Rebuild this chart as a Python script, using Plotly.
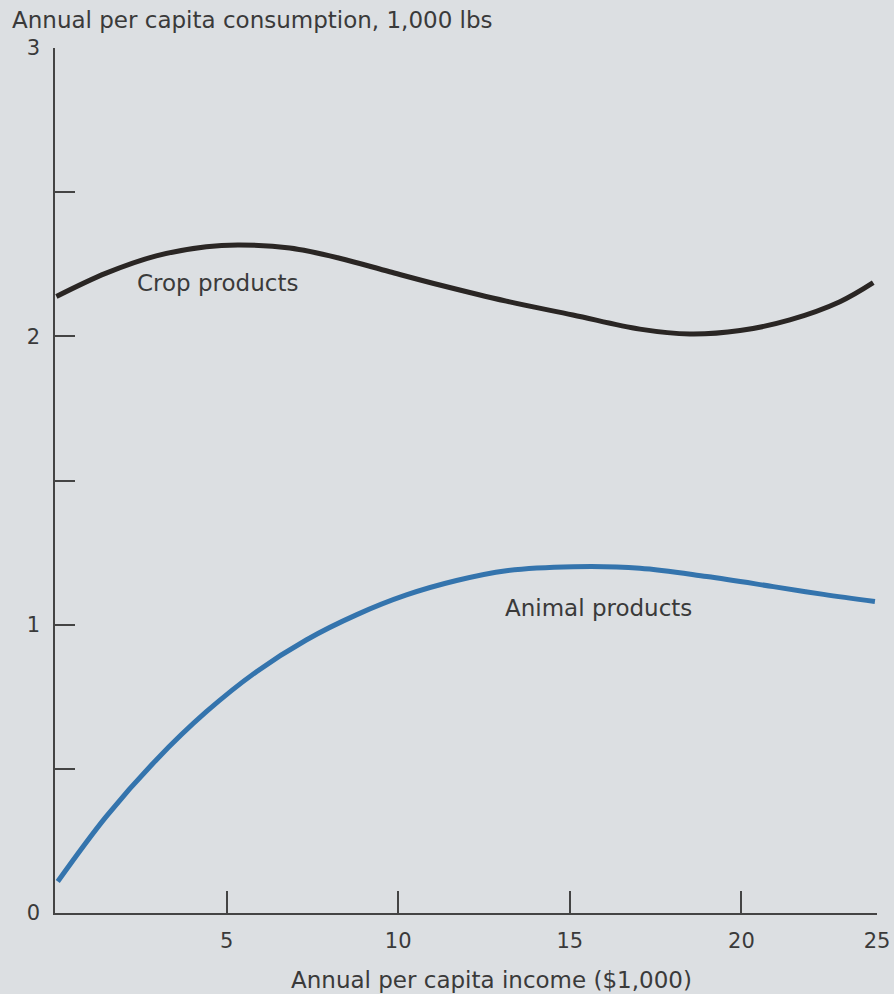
import plotly.graph_objects as go

# Data (x in axis units; the "25" tick sits at 23.95 in the drawing)
crop_x = [0.04, 1.49, 2.95, 4.41, 5.38, 6.84, 8.29, 9.75, 11.21, 13.15, 15.09, 17.04, 18.50, 19.96, 21.41, 22.87, 23.84]
crop_y = [2.138, 2.219, 2.279, 2.311, 2.317, 2.306, 2.271, 2.224, 2.178, 2.122, 2.074, 2.025, 2.008, 2.020, 2.057, 2.120, 2.186]

animal_x = [0.08, 1.49, 2.95, 4.41, 5.87, 7.32, 8.78, 10.24, 11.70, 13.15, 15.10, 17.04, 18.99, 20.93, 22.39, 23.89]
animal_y = [0.109, 0.334, 0.531, 0.698, 0.837, 0.947, 1.034, 1.103, 1.153, 1.187, 1.201, 1.196, 1.167, 1.132, 1.105, 1.080]

x_tick_vals = [5, 10, 15, 20, 23.95]
x_tick_text = ["5", "10", "15", "20", "25"]
y_tick_vals = [0, 1, 2, 3]
y_tick_text = ["0", "1", "2", "3"]

BG = "#dcdfe2"
INK = "#3a3a3a"
FONT = "DejaVu Sans"

W, H = 894, 994
ML, MR, MT, MB = 55, 17, 48, 81
PW, PH = W - ML - MR, H - MT - MB

fig = go.Figure()
fig.add_trace(go.Scatter(x=crop_x, y=crop_y, mode="lines", line=dict(color="#2a2624", width=5, shape="spline", smoothing=1.0),
                         cliponaxis=False, showlegend=False, hoverinfo="skip"))
fig.add_trace(go.Scatter(x=animal_x, y=animal_y, mode="lines", line=dict(color="#3474ad", width=5, shape="spline", smoothing=1.0),
                         cliponaxis=False, showlegend=False, hoverinfo="skip"))

fig.update_layout(
    width=W, height=H,
    paper_bgcolor=BG, plot_bgcolor=BG,
    margin=dict(l=ML, r=MR, t=MT, b=MB, autoexpand=False),
    font=dict(family=FONT, size=22, color=INK),
    xaxis=dict(range=[0, 23.95], showgrid=False, zeroline=False, showline=True, linecolor="#444", linewidth=1.5,
               automargin=False,
               tickvals=x_tick_vals, ticktext=x_tick_text, ticks="inside", ticklen=22, tickwidth=1.5, tickcolor="#444",
               ticklabelstandoff=8, tickfont=dict(size=21, color=INK)),
    yaxis=dict(range=[0, 3], showgrid=False, zeroline=False, showline=True, linecolor="#444", linewidth=1.5,
               automargin=False,
               tickvals=y_tick_vals, ticktext=y_tick_text, ticks="inside", ticklen=20, tickwidth=1.5, tickcolor="#444",
               ticklabelstandoff=9, tickfont=dict(size=21, color=INK),
               minor=dict(tickvals=[0.5, 1.5, 2.5], ticks="inside", ticklen=20, tickwidth=1.5, tickcolor="#444", showgrid=False)),
    annotations=[
        dict(text="Annual per capita consumption, 1,000 lbs", xref="paper", yref="paper", x=-ML/PW, y=1 + 28/PH,
             xanchor="left", yanchor="middle", showarrow=False, xshift=10, font=dict(size=23, color=INK)),
        dict(text="Annual per capita income ($1,000)", xref="paper", yref="paper", x=(492-ML)/PW, y=-67/PH,
             xanchor="center", yanchor="middle", showarrow=False, font=dict(size=23, color=INK)),
        dict(text="Crop products", xref="x", yref="y", x=2.32, y=2.185, xanchor="left", yanchor="middle",
             showarrow=False, font=dict(size=23, color=INK)),
        dict(text="Animal products", xref="x", yref="y", x=13.05, y=1.058, xanchor="left", yanchor="middle",
             showarrow=False, font=dict(size=23, color=INK)),
    ],
)

fig.write_html("out.html", config={"displayModeBar": False},
               post_script="document.body.style.margin='0';document.body.style.background='" + BG + "';")
